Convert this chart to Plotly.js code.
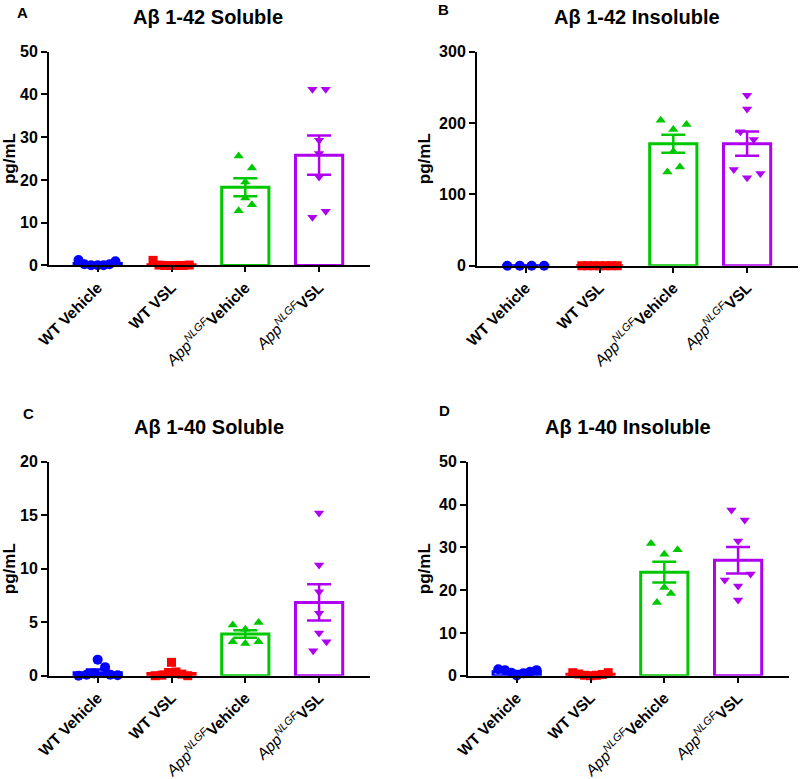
<!DOCTYPE html>
<html><head><meta charset="utf-8">
<script src="https://cdn.plot.ly/plotly-3.0.1.min.js"></script>
<style>html,body{margin:0;padding:0;background:#fff}#chart{width:800px;height:779px}</style>
</head><body><div id="chart"></div>
<script>
// ---------- data ----------
const categories = ['WT Vehicle', 'WT VSL', 'App NLGF Vehicle', 'App NLGF VSL'];
const tickLabels = ['<b>WT Vehicle</b>', '<b>WT VSL</b>',
  '<i>App<sup>NLGF</sup></i><b>Vehicle</b>', '<i>App<sup>NLGF</sup></i><b>VSL</b>'];
const panelTitles = ['Aβ 1-42 Soluble', 'Aβ 1-42 Insoluble', 'Aβ 1-40 Soluble', 'Aβ 1-40 Insoluble'];
const panelLetters = ['A', 'B', 'C', 'D'];
const yMax = [50, 300, 20, 50];
const yStep = [10, 100, 5, 10];

// Panel A: Abeta 1-42 soluble
const a42sol_mean = [0.45, 0.2, 18.3, 25.8];
const a42sol_sem = [0.2, 0.17, 2.1, 4.6];
const a42sol_points = [
  [1.3, 0.3, 0.05, 0.05, 0.05, 0.3, 1.0],
  [1.2, 0.1, 0, 0, 0, 0, 0.1],
  [25.6, 22.8, 19.5, 15.8, 12.8, 14.2],
  [41.2, 41.2, 29.3, 26.2, 20.7, 11.3, 12.7]
];
const a42sol_jitter = [
  [-0.26, -0.18, -0.09, 0, 0.08, 0.16, 0.24],
  [-0.25, -0.17, -0.09, 0, 0.08, 0.16, 0.24],
  [-0.09, 0.09, 0, 0, -0.09, 0.09],
  [-0.09, 0.09, 0, 0, 0, -0.09, 0.09]
];

// Panel B: Abeta 1-42 insoluble
const a42ins_mean = [0, 0, 171, 171];
const a42ins_sem = [0, 0, 12.5, 17];
const a42ins_points = [
  [0, 0, 0, 0],
  [0, 0, 0, 0, 0, 0, 0],
  [204, 198, 191, 160, 131.5, 138.5],
  [239, 219.6, 187.9, 177, 135, 123.4, 129.4]
];
const a42ins_jitter = [
  [-0.25, -0.08, 0.08, 0.25],
  [-0.24, -0.16, -0.08, 0, 0.08, 0.16, 0.24],
  [-0.17, 0.18, 0, 0, -0.08, 0.09],
  [0, 0, -0.09, 0.09, -0.18, 0, 0.18]
];

// Panel C: Abeta 1-40 soluble
const a40sol_mean = [0.28, 0.2, 3.9, 6.85];
const a40sol_sem = [0.3, 0.18, 0.35, 1.7];
const a40sol_points = [
  [0, 0.1, 1.5, 0.2, 0.8, 0.1, 0.05],
  [1.25, 0, 0.05, 0.3, 0.35, 0.15, 0],
  [4.73, 4.98, 4.33, 3.18, 3.02, 3.18],
  [15.2, 10.35, 7.85, 5.83, 4.0, 3.18, 2.34]
];
const a40sol_jitter = [
  [-0.26, -0.15, 0, -0.05, 0.1, 0.17, 0.27],
  [0, -0.22, -0.13, -0.04, 0.06, 0.14, 0.22],
  [-0.17, 0.18, 0, -0.17, 0, 0.18],
  [0, 0, 0, 0, 0, 0.1, -0.08]
];

// Panel D: Abeta 1-40 insoluble
const a40ins_mean = [0.9, 0.35, 24.2, 27.0];
const a40ins_sem = [0.2, 0.12, 2.4, 3.1];
const a40ins_points = [
  [1.5, 1.3, 0.7, 0.05, 0.55, 0.93, 1.3],
  [0.7, 0.4, 0.1, 0, 0.1, 0.3, 0.7],
  [30.9, 28.4, 29.4, 20.6, 19.2, 17.1],
  [38.7, 36.4, 31.5, 22.35, 23.75, 20.95, 17.7]
];
const a40ins_jitter = [
  [-0.25, -0.16, -0.07, 0, 0.09, 0.18, 0.27],
  [-0.24, -0.16, -0.08, 0, 0.08, 0.16, 0.24],
  [-0.18, 0, 0.18, 0, 0.09, -0.1],
  [-0.09, 0.09, 0, -0.18, 0.17, 0, 0]
];

// ---------- styles ----------
const groupColors = ['#0000FF', '#FF0000', '#00C800', '#B000F0'];
const groupSymbols = ['circle', 'square', 'triangle-up', 'triangle-down'];
const markerSizes = [10, 9, 9, 9];
const FONT = 'Liberation Sans, Arial, Helvetica, sans-serif';

const panels = [
  {mean: a42sol_mean, sem: a42sol_sem, pts: a42sol_points, jit: a42sol_jitter,
   xd: [0.06125, 0.4625], yd: [0.6592, 0.9336], tx: 208, ty: 17, lx: 22, ly: 12},
  {mean: a42ins_mean, sem: a42ins_sem, pts: a42ins_points, jit: a42ins_jitter,
   xd: [0.59625, 0.9975], yd: [0.6589, 0.9336], tx: 637, ty: 17, lx: 443, ly: 10},
  {mean: a40sol_mean, sem: a40sol_sem, pts: a40sol_points, jit: a40sol_jitter,
   xd: [0.06125, 0.4625], yd: [0.1326, 0.4073], tx: 209, ty: 427, lx: 28, ly: 413},
  {mean: a40ins_mean, sem: a40ins_sem, pts: a40ins_points, jit: a40ins_jitter,
   xd: [0.585, 0.98625], yd: [0.1326, 0.4073], tx: 628, ty: 427, lx: 444, ly: 410}
];

const W = 800, H = 779;
const traces = [];
const layout = {
  width: W, height: H, margin: {l: 0, r: 0, t: 0, b: 0},
  paper_bgcolor: '#fff', plot_bgcolor: 'rgba(0,0,0,0)',
  showlegend: false, barmode: 'overlay',
  font: {family: FONT, color: '#000'},
  annotations: []
};

panels.forEach((p, k) => {
  const sfx = k === 0 ? '' : String(k + 1);
  const xa = 'x' + sfx, ya = 'y' + sfx;
  // bars (mean) with SEM error bars
  categories.forEach((c, g) => {
    traces.push({
      type: 'bar', x: [g], y: [p.mean[g]], width: 0.64, xaxis: xa, yaxis: ya,
      name: c, hoverinfo: 'skip',
      marker: {color: 'rgba(255,255,255,0)', line: {color: groupColors[g], width: 3}},
      error_y: {type: 'data', array: [p.sem[g]], visible: true, color: groupColors[g],
                thickness: 2.5, width: 12}
    });
  });
  // individual points
  categories.forEach((c, g) => {
    traces.push({
      type: 'scatter', mode: 'markers', xaxis: xa, yaxis: ya, name: c,
      x: p.pts[g].map((v, i) => g + p.jit[g][i]), y: p.pts[g],
      cliponaxis: false,
      marker: {color: groupColors[g], symbol: groupSymbols[g], size: markerSizes[g], line: {width: 0}}
    });
  });
  layout['xaxis' + sfx] = {
    domain: p.xd, anchor: ya, range: [-0.66, 3.69],
    tickmode: 'array', tickvals: [0, 1, 2, 3], ticktext: tickLabels, tickangle: -45,
    tickfont: {family: FONT, size: 15.5, color: '#000'},
    showline: true, linecolor: '#000', linewidth: 2,
    ticks: 'outside', ticklen: 5, tickwidth: 2, tickcolor: '#000',
    showgrid: false, zeroline: false, fixedrange: true
  };
  layout['yaxis' + sfx] = {
    domain: p.yd, anchor: xa, range: [0, yMax[k]], dtick: yStep[k], tick0: 0,
    tickfont: {family: FONT, size: 16, color: '#000', weight: 'bold'},
    showline: true, linecolor: '#000', linewidth: 2,
    ticks: 'outside', ticklen: 6, tickwidth: 2, tickcolor: '#000',
    showgrid: false, zeroline: false, fixedrange: true,
    title: {text: 'pg/mL', font: {family: FONT, size: 17, color: '#000', weight: 'bold'}, standoff: 4}
  };
  layout.annotations.push({
    xref: 'paper', yref: 'paper', x: p.tx / W, y: 1 - p.ty / H,
    xanchor: 'center', yanchor: 'middle', showarrow: false, text: panelTitles[k],
    font: {family: FONT, size: 20, color: '#000', weight: 'bold'}
  });
  layout.annotations.push({
    xref: 'paper', yref: 'paper', x: p.lx / W, y: 1 - p.ly / H,
    xanchor: 'center', yanchor: 'middle', showarrow: false, text: panelLetters[k],
    font: {family: FONT, size: 15, color: '#000', weight: 'bold'}
  });
});

Plotly.newPlot('chart', traces, layout, {displayModeBar: false, staticPlot: true});
</script>
</body></html>
